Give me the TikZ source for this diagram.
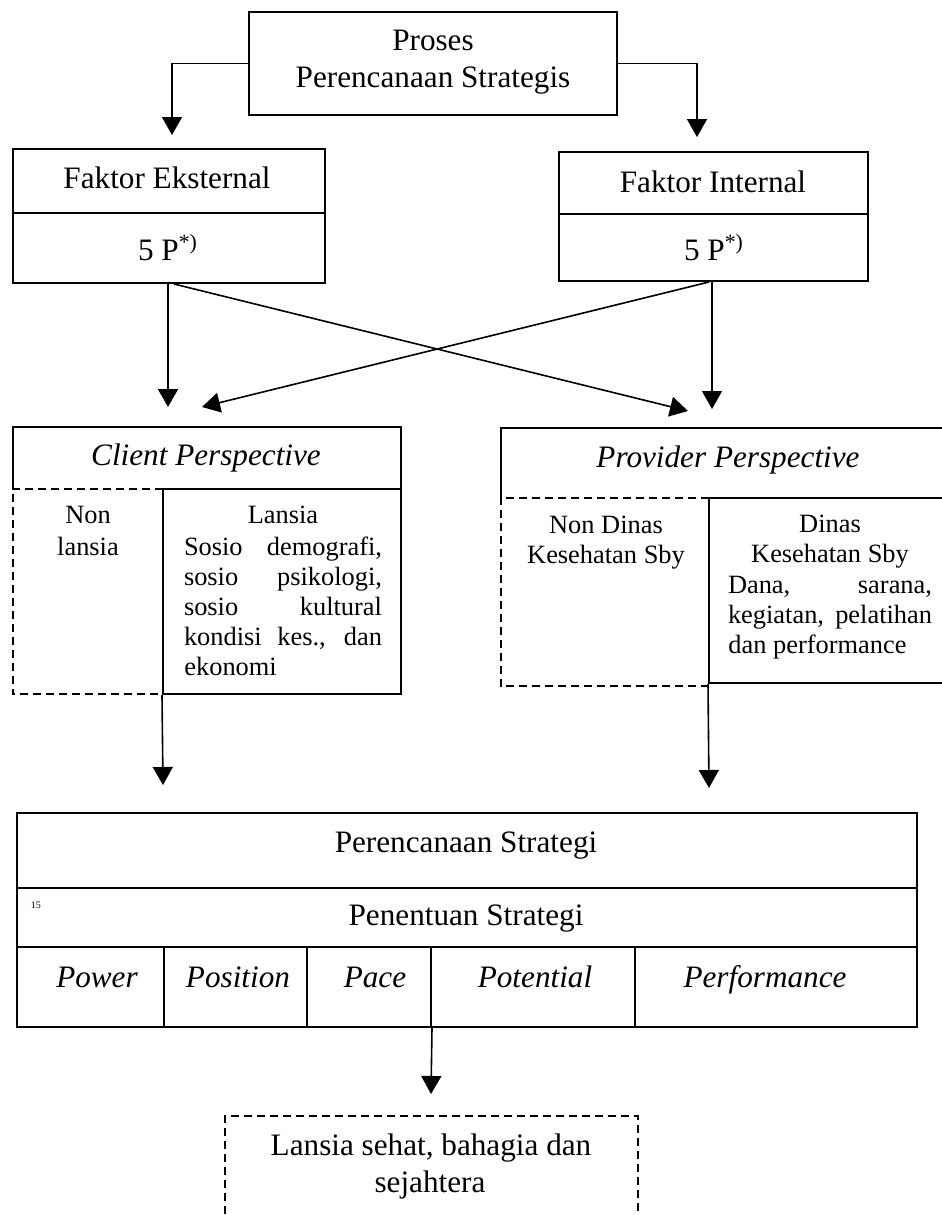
\documentclass[tikz,border=0pt]{standalone}
\usepackage{fontspec}
\setmainfont{Liberation Serif}
\usetikzlibrary{arrows.meta,fit}
\begin{document}
\begin{tikzpicture}[x=0.5pt,y=-0.5pt,
  box/.style={draw,line width=1pt,inner sep=0pt},
  frame/.style={inner sep=0pt},
  dbox/.style={draw,line width=1pt,dash pattern=on 4pt off 2.5pt,inner sep=0pt},
  sline/.style={line width=1pt},
  dline/.style={line width=1pt,dash pattern=on 4pt off 2.5pt},
  lbl/.style={anchor=base,inner sep=0pt,font=\fontsize{15.6}{15}\selectfont},
  cell/.style={anchor=base,inner sep=0pt,font=\fontsize{13.2}{15}\selectfont},
  cellw/.style={cell,anchor=base west},
  conn/.style={line width=0.8pt,-{Triangle[length=9pt,width=10pt]}},
  ]
\useasboundingbox (0,0) rectangle (942,1215);
\clip (0,0) rectangle (942,1215);

% top process box
\node[box,fit={(249,12)(617,115)}] (top) {};
\node[lbl] (tt1) at (433,50) {Proses};
\node[lbl] (tt2) at (433,87) {Perencanaan Strategis};

% external and internal factors
\node[box,fit={(13,149)(325,213)}] (fe) {};
\node[box,fit={(13,213)(325,283)}] (fep) {};
\node[box,fit={(559,152)(868,214)}] (fi) {};
\node[box,fit={(559,214)(868,281)}] (fip) {};
\node[lbl] (tfe) at (167,188) {Faktor Eksternal};
\node[lbl] (tfep) at (168,260) {5 P\textsuperscript{*)}};
\node[lbl] (tfi) at (713,192) {Faktor Internal};
\node[lbl] (tfip) at (714,260) {5 P\textsuperscript{*)}};

% client perspective
\node[frame,fit={(13,427)(401,489)}] (cp) {};
\draw[sline] (cp.south west) -- (cp.north west) -- (cp.north east) -- (cp.south east);
\node[frame,fit={(13,489)(163,694)}] (cpn) {};
\node[box,fit={(163,489)(401,694)}] (cpl) {};
\draw[dline] (cpn.north east) -- (cpn.north west) -- (cpn.south west) -- (cpn.south east);
\node[lbl] (tcp) at (206,465) {\itshape Client Perspective};
\node[cell] (tcn1) at (88,523) {Non};
\node[cell] (tcn2) at (88,555) {lansia};
\node[cell] (tcl1) at (283,523) {Lansia};
\node[cell] (tcl2) at (283,555) {\makebox[99pt][s]{Sosio demografi,}};
\node[cell] (tcl3) at (283,585) {\makebox[99pt][s]{sosio psikologi,}};
\node[cell] (tcl4) at (283,615) {\makebox[99pt][s]{sosio kultural}};
\node[cell] (tcl5) at (283,645) {\makebox[99pt][s]{kondisi kes., dan}};
\node[cellw] (tcl6) at (184,675) {ekonomi};

% provider perspective
\node[frame,fit={(501,428)(960,498)}] (pp) {};
\draw[sline] (pp.south west) -- (pp.north west) -- (pp.north east) -- (pp.south east);
\node[frame,fit={(501,498)(709,686)}] (ppn) {};
\node[box,fit={(709,498)(960,683)}] (ppd) {};
\draw[dline] (ppn.north east) -- (ppn.north west) -- (ppn.south west) -- (ppn.south east);
\node[lbl] (tpp) at (728,467) {\itshape Provider Perspective};
\node[cell] (tpn1) at (606,533) {Non Dinas};
\node[cell] (tpn2) at (606,563) {Kesehatan Sby};
\node[cell] (tpd1) at (830,532) {Dinas};
\node[cell] (tpd2) at (830,562) {Kesehatan Sby};
\node[cell] (tpd3) at (830,593) {\makebox[102pt][s]{Dana, sarana,}};
\node[cell] (tpd4) at (830,623) {\makebox[102pt][s]{kegiatan, pelatihan}};
\node[cellw] (tpd5) at (728,653) {dan performance};

% strategy table
\node[box,fit={(17,813)(917,888)}] (ps) {};
\node[box,fit={(17,888)(917,947)}] (pt) {};
\node[box,fit={(17,947)(164,1027)}] (c1) {};
\node[box,fit={(164,947)(307,1027)}] (c2) {};
\node[box,fit={(307,947)(431,1027)}] (c3) {};
\node[box,fit={(431,947)(635,1027)}] (c4) {};
\node[box,fit={(635,947)(917,1027)}] (c5) {};
\node[lbl] (tps) at (466,852) {Perencanaan Strategi};
\node[lbl] (tpt) at (466,925) {Penentuan Strategi};
\node[anchor=base,inner sep=0pt,font=\fontsize{5}{5}\selectfont] (tmark) at (36,908) {15};
\node[lbl] (tc1) at (97,987) {\itshape Power};
\node[lbl] (tc2) at (238,987) {\itshape Position};
\node[lbl] (tc3) at (375,987) {\itshape Pace};
\node[lbl] (tc4) at (535,987) {\itshape Potential};
\node[lbl] (tc5) at (765,987) {\itshape Performance};

% outcome
\node[dbox,fit={(225,1116)(638,1240)}] (goal) {};
\node[lbl] (tg1) at (431,1155) {Lansia sehat, bahagia dan};
\node[lbl] (tg2) at (430,1192) {sejahtera};

% arrow tips
\coordinate (tA) at (172,135);
\coordinate (tB) at (697,137);
\coordinate (tC) at (168,407);
\coordinate (tD) at (688,411);
\coordinate (tE) at (202,407);
\coordinate (tF) at (712,409);
\coordinate (tG) at (163,785);
\coordinate (tH) at (709,788);
\coordinate (tI) at (431,1094);

% connectors
\draw[conn] (top.west) -| (tA);
\draw[conn] (top.east) -| (tB);
\draw[conn] (tC |- fep.south) -- (tC);
\draw[conn] ([xshift=2.5pt]fep.south) -- (tD);
\draw[conn] ([xshift=-2.25pt]fip.south) -- (tE);
\draw[conn] (tF |- fip.south) -- (tF);
\draw[conn] (cpl.south west) -- (tG);
\draw[conn] (ppd.south west) -- (tH);
\draw[conn] (c3.south east) -- (tI);
\end{tikzpicture}
\end{document}
